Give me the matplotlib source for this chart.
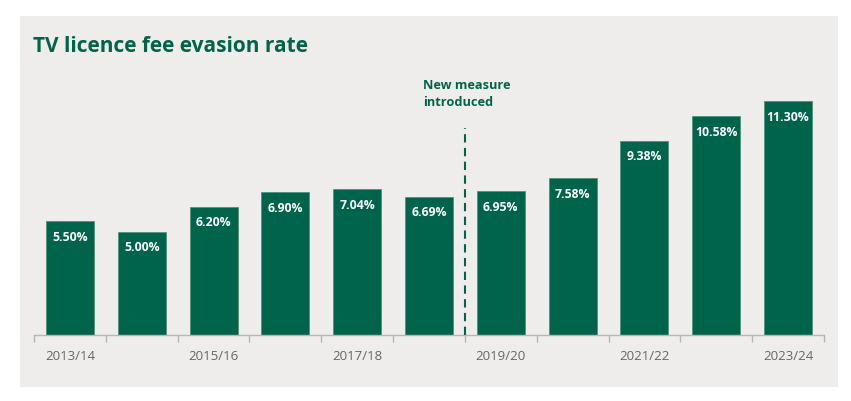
import matplotlib

matplotlib.use("Agg")
import matplotlib.pyplot as plt
from matplotlib.patches import Rectangle

years = ["2013/14", "2014/15", "2015/16", "2016/17", "2017/18", "2018/19",
         "2019/20", "2020/21", "2021/22", "2022/23", "2023/24"]
rates = [5.50, 5.00, 6.20, 6.90, 7.04, 6.69, 6.95, 7.58, 9.38, 10.58, 11.30]
labels = ["5.50%", "5.00%", "6.20%", "6.90%", "7.04%", "6.69%",
          "6.95%", "7.58%", "9.38%", "10.58%", "11.30%"]

GREEN = "#00644a"
PANEL = "#efedeb"
W, H = 851, 401

plt.rcParams["font.family"] = ["Open Sans", "DejaVu Sans"]

fig = plt.figure(figsize=(W / 100, H / 100), dpi=100)
fig.patch.set_facecolor("white")
fig.patches.append(Rectangle((20 / W, 1 - 387 / H), 818 / W, 371 / H,
                             transform=fig.transFigure, facecolor=PANEL,
                             edgecolor="none", zorder=-10))

ax = fig.add_axes([34 / W, 1 - 335 / H, 790 / W, 275 / H])
ax.set_facecolor("none")
x = list(range(len(years)))
ax.bar(x, rates, width=0.668, color=GREEN, edgecolor="#4e9479", linewidth=0.6, zorder=2)
ax.set_xlim(-0.5, len(years) - 0.5)
ax.set_ylim(0, 275 / 20.68)

for xi, r, lab in zip(x, rates, labels):
    ax.annotate(lab, xy=(xi, r), xytext=(0, -11.5), textcoords="offset points",
                ha="center", va="center", color="white", fontsize=8.8,
                fontweight="bold", zorder=3)

ax.vlines(5.5, 0, 10.0, colors=GREEN, linestyles=(0, (4, 2.6)), linewidth=1.5, zorder=3)
fig.text(423 / W, 1 - 79 / H, "New measure\nintroduced", ha="left", va="top",
         color=GREEN, fontsize=9.2, fontweight="bold", linespacing=1.4)

fig.text(33 / W, 1 - 36 / H, "TV licence fee evasion rate", ha="left", va="top",
         color=GREEN, fontsize=15, fontweight="bold")

for side in ["left", "right", "top"]:
    ax.spines[side].set_visible(False)
ax.spines["bottom"].set_color("#b8b6b4")
ax.spines["bottom"].set_linewidth(1)
ax.set_yticks([])
ax.set_xticks([i - 0.5 for i in range(len(years) + 1)])
ax.set_xticklabels([])
ax.tick_params(axis="x", length=5, color="#b8b6b4", width=1)
ax.set_xticks(x[::2], minor=True)
ax.set_xticklabels(years[::2], minor=True)
ax.tick_params(axis="x", which="minor", length=0, pad=11, labelsize=9.5, labelcolor="#666666")

fig.savefig("out.png", dpi=100)
